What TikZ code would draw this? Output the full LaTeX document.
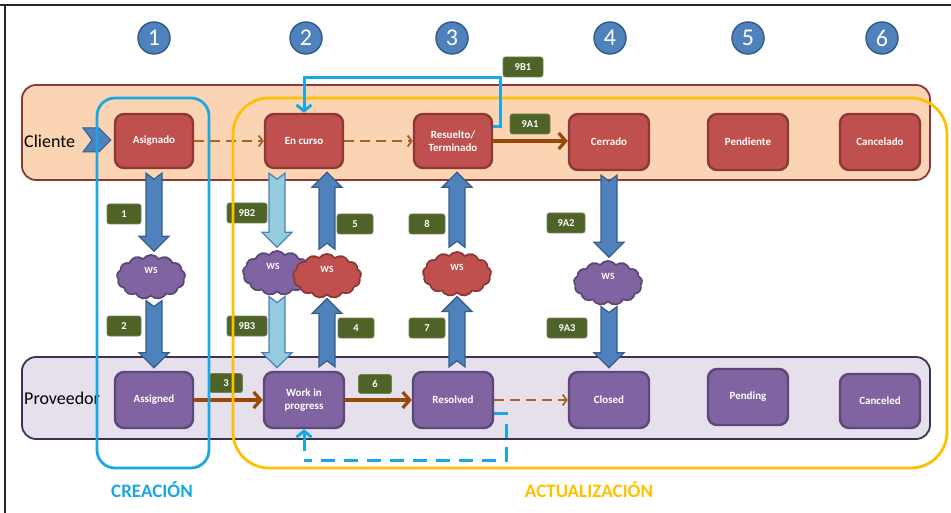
\documentclass[tikz,border=0pt]{standalone}
\usepackage{fontspec}
\setmainfont{Carlito}
\usetikzlibrary{shapes.symbols,arrows.meta,calc}

\definecolor{numblue}{HTML}{4F81BD}
\definecolor{numblueD}{HTML}{385D8A}
\definecolor{cred}{HTML}{C0504D}
\definecolor{credD}{HTML}{8C3836}
\definecolor{cpur}{HTML}{8064A2}
\definecolor{cpurD}{HTML}{5C4776}
\definecolor{peach}{HTML}{FBD4B4}
\definecolor{lav}{HTML}{E5E0EC}
\definecolor{lavD}{HTML}{3F3151}
\definecolor{tagg}{HTML}{4F6228}
\definecolor{cyanb}{HTML}{1BA8E2}
\definecolor{gold}{HTML}{FFC000}
\definecolor{brownc}{HTML}{984807}
\definecolor{lightb}{HTML}{93CDDD}

% vertical block arrows with a notched tail; x is taken from the tail point
\newcommand{\blockdown}[3]{\path[#1] let \p1=#2, \p2=#3 in
  (\x1-8pt,\y1-4pt) -- (\x1,\y1-10pt) -- (\x1+8pt,\y1-4pt) -- (\x1+8pt,\y2+18pt)
  -- (\x1+15pt,\y2+18pt) -- (\x1,\y2+3pt) -- (\x1-15pt,\y2+18pt) -- (\x1-8pt,\y2+18pt) -- cycle;}
\newcommand{\blockup}[3]{\path[#1] let \p1=#2, \p2=#3 in
  (\x1-8pt,\y1+4pt) -- (\x1,\y1+10pt) -- (\x1+8pt,\y1+4pt) -- (\x1+8pt,\y2-18pt)
  -- (\x1+15pt,\y2-18pt) -- (\x1,\y2-3pt) -- (\x1-15pt,\y2-18pt) -- (\x1-8pt,\y2-18pt) -- cycle;}

\tikzset{
  numcirc/.style={circle, fill=numblue, draw=numblueD, line width=1.5pt, minimum size=32pt,
    inner sep=0pt, text=white, font=\fontsize{24}{24}\selectfont},
  statebox/.style={rounded corners=9pt, line width=2.4pt, minimum width=78pt, minimum height=54pt,
    text=white, font=\bfseries\fontsize{11}{13}\selectfont, align=center, inner sep=2pt},
  cbox/.style={statebox, fill=cred, draw=credD},
  pbox/.style={statebox, fill=cpur, draw=cpurD},
  band/.style={rounded corners=14pt, line width=1.8pt},
  tag/.style={rectangle, rounded corners=2.5pt, fill=tagg, draw=tagg!80!white, line width=0.8pt,
    minimum width=36pt, minimum height=20pt, inner sep=1pt, text=white,
    font=\bfseries\fontsize{10.5}{11}\selectfont},
  ws/.style={cloud, cloud puffs=13, cloud puff arc=110, cloud ignores aspect,
    minimum width=68pt, minimum height=44pt, line width=1.6pt, inner sep=0pt},
  wsP/.style={ws, fill=cpur, draw=cpurD},
  wsR/.style={ws, fill=cred, draw=credD},
  wslab/.style={text=white, font=\bfseries\fontsize{9.5}{9.5}\selectfont, inner sep=0pt},
  blockD/.style={fill=numblue, draw=numblueD, line width=1.3pt},
  blockL/.style={fill=lightb, draw=numblue, line width=1.3pt},
  brownthick/.style={draw=brownc, line width=3.2pt, -{Straight Barb[length=7pt,width=16pt]}},
  browndash/.style={draw=brownc!85!white, line width=1.8pt, dash pattern=on 10pt off 6pt,
    -{Straight Barb[length=4pt,width=11pt]}},
  bluecon/.style={draw=cyanb, line width=3pt, -{Straight Barb[length=6pt,width=15pt]}},
  bluedash/.style={draw=cyanb, line width=3pt, dash pattern=on 14pt off 9pt},
  lanelab/.style={anchor=west, font=\fontsize{18}{18}\selectfont, inner sep=0pt},
  grouplab/.style={font=\bfseries\fontsize{19}{19}\selectfont, inner sep=0pt}
}

\begin{document}
\begin{tikzpicture}[x=1pt, y=-1pt]
\useasboundingbox (0,0) rectangle (951,513);
\fill[white] (0,0) rectangle (951,513);
\draw[line width=1.2pt, black!85] (0,5) -- (951,5) (5,5) -- (5,513);

% column numbers
\node[numcirc] (n1) at (154,38) {1};
\node[numcirc] (n2) at (306,38) {2};
\node[numcirc] (n3) at (452,38) {3};
\node[numcirc] (n4) at (610,38) {4};
\node[numcirc] (n5) at (748,38) {5};
\node[numcirc] (n6) at (882,38) {6};

% swim lanes
\draw[band, fill=peach, draw=credD] (22,85) rectangle (930,180);
\draw[band, fill=lav, draw=lavD] (22,357) rectangle (930,439);
\node[lanelab] (cli) at (24,141) {Cliente};
\node[lanelab] (prov) at (24,398) {Proveedor};
\filldraw[fill=numblue, draw=numblueD, line width=1pt]
  (83,128) -- (99,128) -- (111,140) -- (99,152) -- (83,152) -- (92,140) -- cycle;

% client states
\node[cbox] (asig) at (154,141) {Asignado};
\node[cbox] (encurso) at (304,141) {En curso};
\node[cbox] (resuelto) at (453,141) {Resuelto/\\Terminado};
\node[cbox, minimum width=80pt, minimum height=56pt] (cerrado) at (609,142) {Cerrado};
\node[cbox, minimum width=80pt, minimum height=56pt] (pendiente) at (748,142) {Pendiente};
\node[cbox, minimum width=80pt, minimum height=56pt] (cancelado) at (880,142) {Cancelado};

% provider states
\node[pbox, minimum height=56pt] (assigned) at (154,400) {Assigned};
\node[pbox, minimum width=80pt, minimum height=56pt] (work) at (304,400) {Work in\\progress};
\node[pbox, minimum width=80pt, minimum height=56pt] (resolved) at (453,400) {Resolved};
\node[pbox, minimum width=80pt, minimum height=56pt] (closed) at (609,400) {Closed};
\node[pbox, minimum width=80pt, minimum height=56pt] (pending) at (748,397) {Pending};
\node[pbox, minimum width=80pt, minimum height=54pt] (canceled) at (880,401) {Canceled};

% web service clouds
\node[wsP] (ws1) at (151,277) {};
\node[wsP] (ws2) at (277,273) {};
\node[wsR] (ws3) at (327,276) {};
\node[wsR] (ws4) at (457,274) {};
\node[wsP] (ws5) at (608,283) {};

% block arrows between lanes and clouds
\blockdown{blockD}{(asig.south)}{(ws1.north)}
\blockdown{blockD}{(ws1.south -| assigned.north)}{(assigned.north)}
\blockdown{blockL}{(ws2.north |- encurso.south)}{(ws2.north)}
\blockdown{blockL}{(ws2.south)}{(ws2.south |- work.north)}
\blockup{blockD}{(ws3.south |- work.north)}{(ws3.south)}
\blockup{blockD}{(ws3.north)}{(ws3.north |- encurso.south)}
\blockup{blockD}{(ws4.south |- resolved.north)}{(ws4.south)}
\blockup{blockD}{(ws4.north)}{(ws4.north |- resuelto.south)}
\blockdown{blockD}{(cerrado.south)}{(ws5.north)}
\blockdown{blockD}{(ws5.south -| closed.north)}{(closed.north)}

% clouds again on top of the arrow tails
\node[wsP] at (ws1) {};
\node[wsP] at (ws2) {};
\node[wsR] at (ws3) {};
\node[wsR] at (ws4) {};
\node[wsP] at (ws5) {};
\node[wslab] (ws1t) at ([yshift=7pt]ws1.center) {WS};
\node[wslab] (ws2t) at ([yshift=7pt,xshift=-4pt]ws2.center) {WS};
\node[wslab] (ws3t) at ([yshift=7pt]ws3.center) {WS};
\node[wslab] (ws4t) at ([yshift=7pt]ws4.center) {WS};
\node[wslab] (ws5t) at ([yshift=7pt]ws5.center) {WS};

% state transitions
\draw[browndash] (asig.east) -- (encurso.west);
\draw[browndash] (encurso.east) -- (resuelto.west);
\draw[brownthick] (resuelto.east) -- (resuelto.east -| cerrado.west);
\draw[brownthick] (assigned.east) -- (work.west);
\draw[brownthick] (work.east) -- (resolved.west);
\draw[browndash] (resolved.east) -- (resolved.east -| closed.west);

% step tags
\node[tag, minimum width=34pt] (t1) at (124,214) {1};
\node[tag, minimum width=40pt] (t9b2) at (247,213) {9B2};
\node[tag] (t5) at (355,224) {5};
\node[tag] (t8) at (427,224) {8};
\node[tag, minimum width=40pt] (t9b1) at (523,67) {9B1};
\node[tag, minimum width=40pt] (t9a1) at (530,124) {9A1};
\node[tag, minimum width=38pt] (t9a2) at (566,223) {9A2};
\node[tag, minimum width=34pt] (t2) at (124,326) {2};
\node[tag, minimum width=40pt] (t9b3) at (247,326) {9B3};
\node[tag] (t4) at (356,328) {4};
\node[tag] (t7) at (427,328) {7};
\node[tag, minimum width=40pt] (t9a3) at (567,328) {9A3};
\node[tag, minimum width=33pt, minimum height=19pt] (t3) at (226,383) {3};
\node[tag, minimum width=33pt, minimum height=19pt] (t6) at (375,384) {6};

% phase groups
\draw[draw=gold, line width=2.8pt, rounded corners=36pt] (233,98) rectangle (947,468);
\draw[draw=cyanb, line width=2.8pt, rounded corners=18pt] (97,98) rectangle (209,468);
\node[grouplab, text=cyanb] (crea) at (152,490) {CREACIÓN};
\node[grouplab, text=gold] (actu) at (589,490) {ACTUALIZACIÓN};

% reopening loops
\coordinate (b1) at (500,78);
\draw[bluecon] ([yshift=14pt]resuelto.east) -| (b1) -| (encurso.north);
\coordinate (d1) at (506,460);
\draw[bluedash] ([yshift=-13pt]resolved.east) -| (d1) -- (d1 -| work.south);
\draw[bluecon] ([yshift=-22pt]work.south) -- (work.south);
\end{tikzpicture}
\end{document}
